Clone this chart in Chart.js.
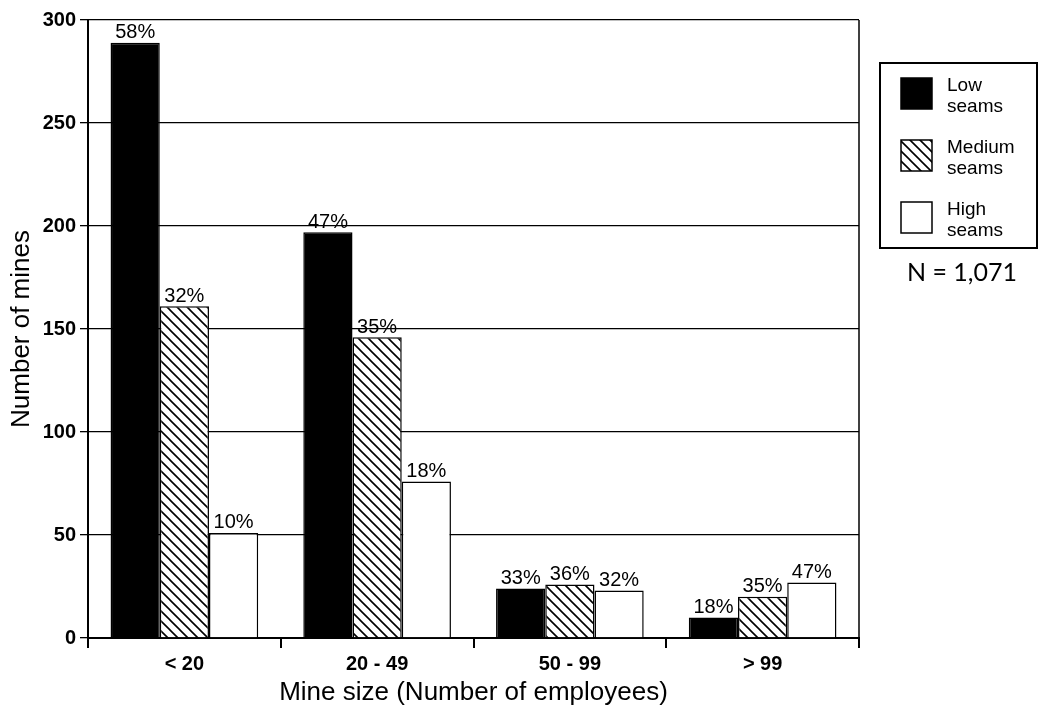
<!DOCTYPE html>
<html>
<head>
<meta charset="utf-8">
<script src="https://cdn.jsdelivr.net/npm/chart.js@4.4.0/dist/chart.umd.min.js"></script>
<style>
  html, body { margin: 0; padding: 0; background: #fff; }
  #wrap { width: 1039px; height: 708px; }
</style>
</head>
<body>
<div id="wrap"><canvas id="mineChart"></canvas></div>
<script>
// Chart data
const categories = ['< 20', '20 - 49', '50 - 99', '> 99'];
const lowSeams = [289, 197, 24, 10];
const mediumSeams = [161, 146, 26, 20];
const highSeams = [51, 76, 23, 27];
const lowPct = ['58%', '47%', '33%', '18%'];
const mediumPct = ['32%', '35%', '36%', '35%'];
const highPct = ['10%', '18%', '32%', '47%'];
const seriesNames = [['Low', 'seams'], ['Medium', 'seams'], ['High', 'seams']];
const totalNote = 'N = 1,071';

const FONT = '"Liberation Sans", Arial, Helvetica, sans-serif';

// Diagonal hatch for medium seams
function makeHatch() {
    const c = document.createElement('canvas');
    c.width = 10; c.height = 10;
    const g = c.getContext('2d');
    g.fillStyle = '#fff';
    g.fillRect(0, 0, 10, 10);
    g.strokeStyle = '#000';
    g.lineWidth = 1.6;
    g.beginPath();
    g.moveTo(-1, -1); g.lineTo(11, 11);
    g.moveTo(-1, 9); g.lineTo(1, 11);
    g.moveTo(9, -1); g.lineTo(11, 1);
    g.stroke();
    return g.createPattern(c, 'repeat');
}
const hatch = makeHatch();

// Percent labels above bars
const pctLabels = {
    id: 'pctLabels',
    afterDatasetsDraw(chart) {
        const ctx = chart.ctx;
        ctx.save();
        ctx.font = '20px ' + FONT;
        ctx.fillStyle = '#000';
        ctx.textAlign = 'center';
        ctx.textBaseline = 'bottom';
        chart.data.datasets.forEach((ds, i) => {
            chart.getDatasetMeta(i).data.forEach((bar, j) => {
                ctx.fillText(ds.pct[j], bar.x, bar.y);
            });
        });
        ctx.restore();
    }
};

// Right frame line, legend box and N note
const frameAndLegend = {
    id: 'frameAndLegend',
    afterDraw(chart) {
        const ctx = chart.ctx;
        const a = chart.chartArea;
        ctx.save();
        ctx.strokeStyle = '#000';
        ctx.lineWidth = 1.5;
        ctx.beginPath();
        ctx.moveTo(a.right, a.top);
        ctx.lineTo(a.right, a.bottom);
        ctx.stroke();

        const bx = a.right + 21, by = 63, bw = 157, bh = 185;
        ctx.lineWidth = 2;
        ctx.strokeRect(bx, by, bw, bh);

        ctx.font = '19px ' + FONT;
        ctx.textBaseline = 'middle';
        ctx.textAlign = 'left';
        chart.data.datasets.forEach((ds, i) => {
            const sy = 78 + i * 62;
            ctx.fillStyle = ds.backgroundColor;
            ctx.fillRect(bx + 21, sy, 31, 31);
            ctx.lineWidth = 1.5;
            ctx.strokeRect(bx + 21, sy, 31, 31);
            ctx.fillStyle = '#000';
            ctx.fillText(seriesNames[i][0], bx + 67, sy + 8);
            ctx.fillText(seriesNames[i][1], bx + 67, sy + 29);
        });

        ctx.font = '25px Lato, "Open Sans", sans-serif';
        ctx.textAlign = 'center';
        ctx.fillText(totalNote, bx + 82, 273);
        ctx.restore();
    }
};

const data = {
    labels: categories,
    datasets: [
        { label: 'Low seams', data: lowSeams, pct: lowPct, backgroundColor: '#000' },
        { label: 'Medium seams', data: mediumSeams, pct: mediumPct, backgroundColor: hatch },
        { label: 'High seams', data: highSeams, pct: highPct, backgroundColor: '#fff' }
    ]
};
data.datasets.forEach(ds => {
    ds.borderColor = '#000';
    ds.borderWidth = 1.5;
    ds.categoryPercentage = 0.766;
    ds.barPercentage = 1.0;
});

const options = {
    responsive: true,
    maintainAspectRatio: false,
    animation: false,
    layout: { padding: { top: 20, right: 180, left: 0, bottom: 0 } },
    plugins: { legend: { display: false }, tooltip: { enabled: false } },
    scales: {
        x: {
            afterFit: s => { s.height = 70; },
            grid: { offset: true, drawOnChartArea: false, drawTicks: true, tickLength: 10, color: '#000', lineWidth: 2 },
            border: { color: '#000', width: 2 },
            ticks: { color: '#000', padding: 4, font: { family: FONT, size: 20, weight: 'bold' } },
            title: { display: true, text: 'Mine size (Number of employees)', color: '#000',
                     padding: { top: 0, bottom: 0 }, font: { family: FONT, size: 26 } }
        },
        y: {
            min: 0, max: 300,
            afterFit: s => { s.width = 88; },
            grid: { color: '#000', lineWidth: 1.3, tickLength: 8 },
            border: { color: '#000', width: 2 },
            ticks: { stepSize: 50, color: '#000', padding: 4, font: { family: FONT, size: 20, weight: 'bold' } },
            title: { display: true, text: 'Number of mines', color: '#000',
                     padding: { top: 6, bottom: 0 }, font: { family: FONT, size: 26 } }
        }
    }
};

new Chart(document.getElementById('mineChart').getContext('2d'), {
    type: 'bar', data, options, plugins: [pctLabels, frameAndLegend]
});
</script>
</body>
</html>
